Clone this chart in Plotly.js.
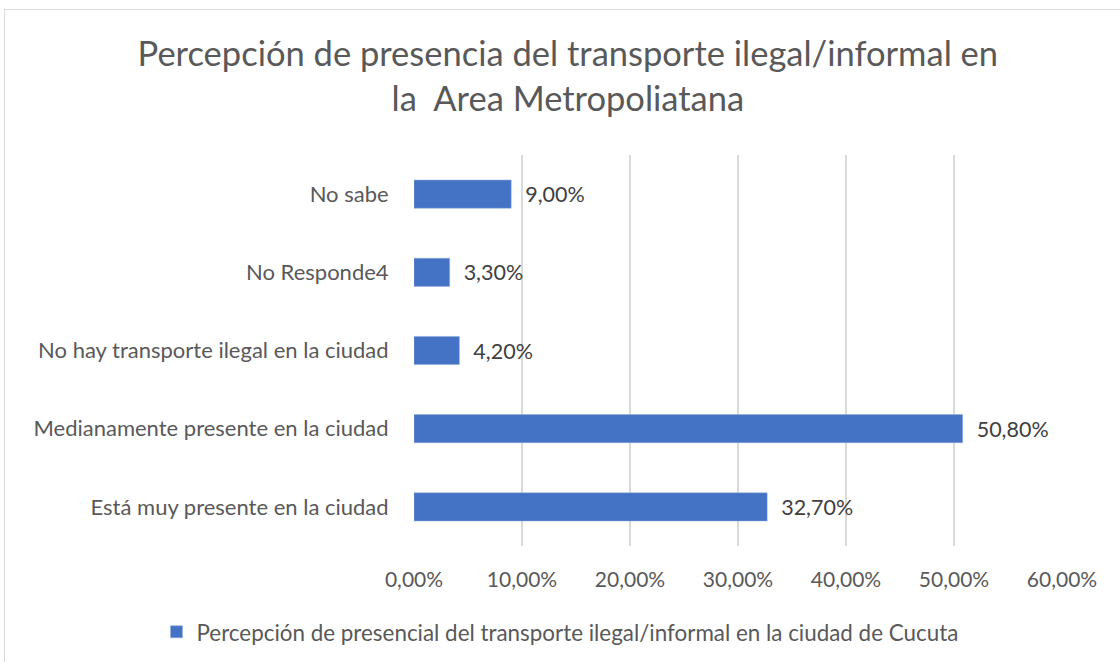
<!DOCTYPE html>
<html>
<head>
<meta charset="utf-8">
<script src="https://cdn.plot.ly/plotly-3.0.1.min.js"></script>
<style>
html,body{margin:0;padding:0;background:#fff;}
#frame{position:absolute;left:4px;top:9px;width:1120px;height:660px;border:1px solid #d9d9d9;box-sizing:border-box;}
#chart{position:absolute;left:0;top:0;width:1120px;height:662px;}
</style>
</head>
<body>
<div id="frame"></div>
<div id="chart"></div>
<script>
const categories = [
  "Está muy presente en la ciudad",
  "Medianamente presente en la ciudad",
  "No hay transporte ilegal en la ciudad",
  "No Responde4",
  "No sabe"
];
const values = [0.327, 0.508, 0.042, 0.033, 0.090];
const seriesName = "Percepción de presencial del transporte ilegal/informal en la ciudad de Cucuta";
const tickValues = [0, 0.1, 0.2, 0.3, 0.4, 0.5, 0.6];

const FONT = "Lato, 'Open Sans', sans-serif";

const trace = {
  type: 'bar',
  orientation: 'h',
  x: values,
  y: categories,
  name: seriesName,
  marker: {color: '#4472c4', line: {color: '#8faadc', width: 0.5}},
  text: values.map(v => '\u00a0\u00a0' + (v*100).toFixed(2).replace('.', ',') + '%'),
  textposition: 'outside',
  cliponaxis: false,
  textfont: {family: FONT, size: 21.5, color: '#404040'},
  hoverinfo: 'x+y'
};

const layout = {
  width: 1120,
  height: 662,
  paper_bgcolor: 'rgba(0,0,0,0)',
  plot_bgcolor: 'rgba(0,0,0,0)',
  separators: ',.',
  margin: {l: 414, r: 58, t: 155, b: 116},
  font: {family: FONT, color: '#595959'},
  title: {
    text: "Percepción de presencia del transporte ilegal/informal en<br>la&nbsp; Area Metropoliatana",
    font: {family: FONT, size: 34.5, color: '#595959'},
    xref: 'container', x: 0.507, xanchor: 'center',
    yref: 'container', y: 0.9, yanchor: 'top'
  },
  xaxis: {
    range: [0, 0.6],
    tickvals: tickValues,
    tickformat: '.2%',
    showgrid: true,
    gridcolor: '#d9d9d9',
    gridwidth: 1.5,
    zeroline: false,
    showline: false,
    ticks: 'outside',
    ticklen: 15,
    tickcolor: 'rgba(0,0,0,0)',
    tickfont: {family: FONT, size: 21, color: '#595959'},
    fixedrange: true
  },
  yaxis: {
    categoryorder: 'array',
    categoryarray: categories,
    showgrid: false,
    zeroline: false,
    showline: false,
    ticks: 'outside',
    ticklen: 20,
    tickcolor: 'rgba(0,0,0,0)',
    tickfont: {family: FONT, size: 22, color: '#595959'},
    fixedrange: true
  },
  bargap: 0.64,
  showlegend: true,
  legend: {
    orientation: 'h',
    x: 0.5, xref: 'container', xanchor: 'center',
    y: 0.045, yref: 'container', yanchor: 'middle',
    itemwidth: 30,
    font: {family: FONT, size: 22.4, color: '#595959'}
  }
};

Plotly.newPlot('chart', [trace], layout, {displayModeBar: false, staticPlot: true});
</script>
</body>
</html>
